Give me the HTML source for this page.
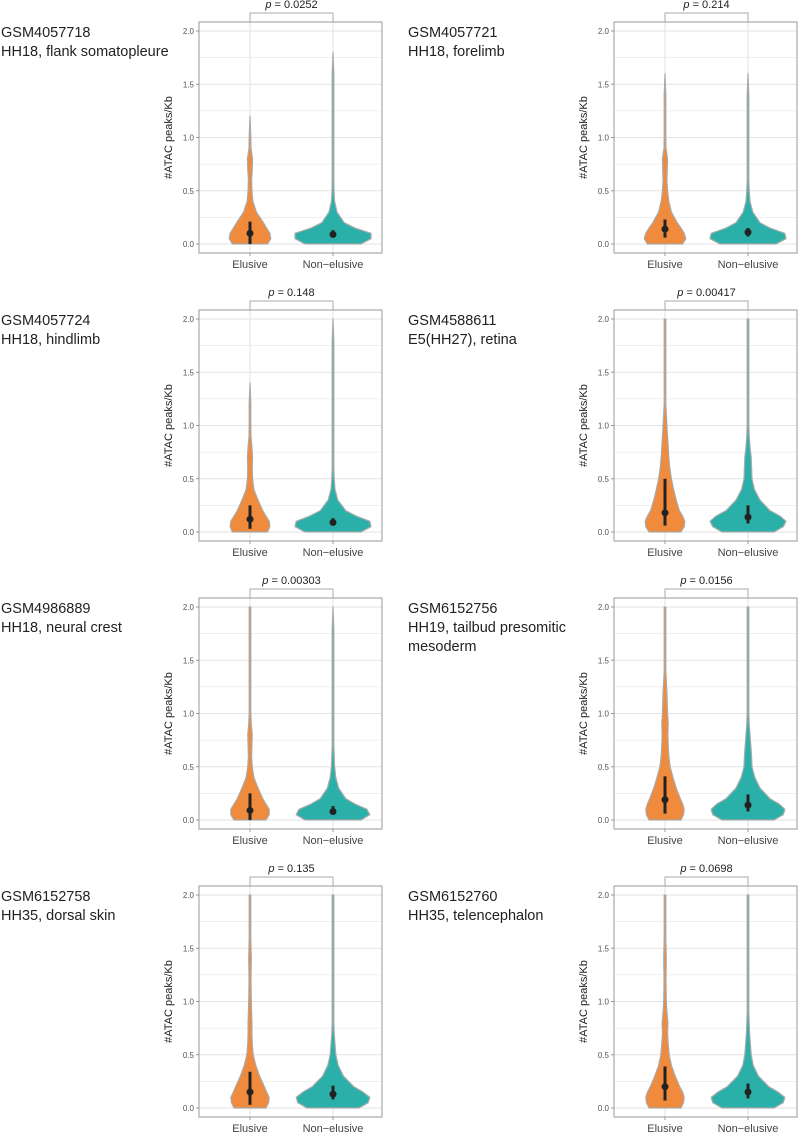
<!DOCTYPE html>
<html><head><meta charset="utf-8">
<style>
body{margin:0;background:#fff;width:799px;height:1134px;overflow:hidden;font-family:"Liberation Sans",Arial,sans-serif}
</style></head>
<body>
<svg id="chart" width="799" height="1134" xmlns="http://www.w3.org/2000/svg"></svg>
<script>
const sampleIds = ["GSM4057718","GSM4057721","GSM4057724","GSM4588611","GSM4986889","GSM6152756","GSM6152758","GSM6152760"];
const sampleDescs = [["HH18, flank somatopleure"],["HH18, forelimb"],["HH18, hindlimb"],["E5(HH27), retina"],["HH18, neural crest"],["HH19, tailbud presomitic","mesoderm"],["HH35, dorsal skin"],["HH35, telencephalon"]];
const pValues = ["0.0252","0.214","0.148","0.00417","0.00303","0.0156","0.135","0.0698"];
const categories = ["Elusive","Non\u2212elusive"];
const yTicks = [0,0.5,1.0,1.5,2.0];
const yTickLabels = ["0.0","0.5","1.0","1.5","2.0"];
const densY = [0,0.05,0.1,0.15,0.2,0.3,0.4,0.5,0.6,0.7,0.8,0.9,1.0,1.2,1.4,1.6,1.8,2.0];
// density half-widths (0..1) per panel: elusive, non-elusive
const elusiveDens = [
 [0.55,0.65,0.62,0.52,0.42,0.2,0.09,0.06,0.05,0.07,0.08,0.03,0.01,0,0,0,0,0],
 [0.55,0.65,0.6,0.5,0.38,0.2,0.12,0.08,0.06,0.07,0.08,0.03,0.02,0.015,0.01,0,0,0],
 [0.55,0.62,0.6,0.5,0.4,0.25,0.12,0.08,0.07,0.08,0.06,0.03,0.02,0.01,0,0,0,0],
 [0.5,0.6,0.62,0.55,0.45,0.35,0.27,0.2,0.15,0.12,0.1,0.08,0.06,0.02,0.01,0.01,0.01,0.005],
 [0.5,0.6,0.6,0.5,0.4,0.25,0.12,0.07,0.05,0.06,0.07,0.04,0.02,0.01,0.01,0.01,0.01,0.005],
 [0.5,0.58,0.6,0.55,0.48,0.35,0.25,0.16,0.12,0.1,0.09,0.1,0.08,0.06,0.02,0.01,0.01,0.005],
 [0.5,0.58,0.6,0.52,0.45,0.3,0.18,0.1,0.07,0.06,0.06,0.05,0.04,0.03,0.04,0.01,0.01,0.005],
 [0.5,0.58,0.6,0.55,0.46,0.32,0.2,0.13,0.1,0.08,0.09,0.06,0.04,0.03,0.04,0.01,0.01,0.005]];
const nonElusiveDens = [
 [0.7,0.95,0.95,0.55,0.28,0.1,0.04,0.025,0.02,0.015,0.01,0.01,0.01,0.01,0.008,0.006,0,0],
 [0.7,0.95,0.92,0.55,0.3,0.12,0.05,0.03,0.02,0.015,0.01,0.01,0.01,0.01,0.008,0,0,0],
 [0.7,0.95,0.92,0.58,0.32,0.12,0.05,0.03,0.02,0.015,0.01,0.01,0.01,0.01,0.008,0.008,0.006,0],
 [0.65,0.88,0.95,0.8,0.55,0.3,0.16,0.1,0.09,0.08,0.05,0.03,0.02,0.01,0.01,0.01,0.01,0.005],
 [0.7,0.92,0.85,0.55,0.32,0.14,0.07,0.04,0.03,0.02,0.015,0.01,0.01,0.01,0.008,0.006,0.005,0],
 [0.65,0.88,0.92,0.78,0.55,0.3,0.17,0.1,0.09,0.07,0.05,0.03,0.02,0.01,0.01,0.01,0.01,0.005],
 [0.65,0.88,0.92,0.75,0.52,0.26,0.13,0.07,0.05,0.03,0.02,0.015,0.01,0.01,0.01,0.01,0.008,0.005],
 [0.65,0.88,0.92,0.75,0.52,0.26,0.13,0.08,0.06,0.04,0.03,0.02,0.015,0.01,0.01,0.01,0.008,0.005]];
const elusiveMed = [0.1,0.14,0.12,0.18,0.09,0.19,0.15,0.2];
const elusiveLo = [0.0,0.06,0.03,0.06,0.0,0.06,0.03,0.07];
const elusiveHi = [0.21,0.23,0.25,0.5,0.25,0.41,0.34,0.39];
const nonMed = [0.09,0.11,0.09,0.14,0.08,0.14,0.13,0.15];
const nonLo = [0.06,0.07,0.06,0.08,0.05,0.08,0.08,0.09];
const nonHi = [0.13,0.15,0.13,0.25,0.13,0.24,0.21,0.23];

const NS="http://www.w3.org/2000/svg";
const svg=document.getElementById('chart');
function mk(tag,attrs,parent){const e=document.createElementNS(NS,tag);for(const k in attrs)e.setAttribute(k,attrs[k]);(parent||svg).appendChild(e);return e;}
const colors=["#f08a3c","#2ab0a8"];
for(let i=0;i<8;i++){
  const col=i%2,row=Math.floor(i/2);
  const ox=col?614:199, oy=row*288;
  const g=mk('g',{});
  
  
  const lx=col?408:1;
  const t1=mk('text',{x:lx,y:oy+37,'font-size':14.5,fill:'#222'},g);t1.textContent=sampleIds[i];
  
  sampleDescs[i].forEach((d,k)=>{const t=mk('text',{x:lx,y:oy+56+k*19,'font-size':14.5,fill:'#222'},g);t.textContent=d;
    });
  const W=183, top=oy+22, bot=oy+253;
  const y0=oy+244, y2=oy+31;
  const ys=v=>y0+(y2-y0)*v/2;
  const xs=[ox+51,ox+134];
  for(let v=0;v<=2.0001;v+=0.25){const l=mk('line',{x1:ox,x2:ox+W,y1:ys(v),y2:ys(v),stroke:'#e2e2e2','stroke-width':(Math.abs(v*2-Math.round(v*2))<1e-6)?1:0.6},g);
    }
  xs.forEach(x=>{const l=mk('line',{x1:x,x2:x,y1:top,y2:bot,stroke:'#e2e2e2'},g);});
  const box=mk('rect',{x:ox,y:top,width:W,height:bot-top,fill:'none',stroke:'#9a9a9a'},g);
  
  yTicks.forEach((v,k)=>{mk('line',{x1:ox-3,x2:ox,y1:ys(v),y2:ys(v),stroke:'#999'},g);
    const t=mk('text',{x:ox-5,y:ys(v)+3,'font-size':8,fill:'#555','text-anchor':'end'},g);t.textContent=yTickLabels[k];
    });
  const yt=mk('text',{x:0,y:0,'font-size':11,fill:'#222','text-anchor':'middle',transform:`translate(${ox-27},${(top+bot)/2}) rotate(-90)`},g);
  yt.textContent="#ATAC peaks/Kb";
  categories.forEach((c,k)=>{mk('line',{x1:xs[k],x2:xs[k],y1:bot,y2:bot+3,stroke:'#999'},g);
    const t=mk('text',{x:xs[k],y:bot+15,'font-size':11,fill:'#444','text-anchor':'middle'},g);t.textContent=c;
    });
  const br=mk('path',{d:`M${xs[0]},${top}V${oy+13}H${xs[1]}V${top}`,fill:'none',stroke:'#aaa'},g);
  
  const pt=mk('text',{x:(xs[0]+xs[1])/2,y:oy+8,'font-size':11,fill:'#222','text-anchor':'middle'},g);
  pt.innerHTML='<tspan font-style="italic">p</tspan> = '+pValues[i];
  
  [elusiveDens[i],nonElusiveDens[i]].forEach((dens,k)=>{
    const maxW=k?40:32;
    let last=0;for(let j=0;j<dens.length;j++)if(dens[j]>0)last=j;
    let pts=[];
    for(let j=0;j<=last;j++)pts.push([xs[k]+Math.max(dens[j]*maxW,0.8),ys(densY[j])]);
    const topY=ys(densY[Math.min(last+1,densY.length-1)]);
    let d='M'+xs[k]+','+ys(0)+' '+pts.map(p=>'L'+p[0]+','+p[1]).join(' ')+' L'+xs[k]+','+topY+' ';
    d+=pts.slice().reverse().map(p=>'L'+(2*xs[k]-p[0])+','+p[1]).join(' ')+' Z';
    const v=mk('path',{d:d,fill:colors[k],stroke:'#aaa','stroke-width':1.2,'stroke-linejoin':'round'},g);
    
    const lo=k?nonLo[i]:elusiveLo[i],hi=k?nonHi[i]:elusiveHi[i],md=k?nonMed[i]:elusiveMed[i];
    const r=mk('line',{x1:xs[k],x2:xs[k],y1:ys(lo),y2:ys(hi),stroke:'#222','stroke-width':3},g);
    
    const c=mk('circle',{cx:xs[k],cy:ys(md),r:3.5,fill:'#222'},g);
    
  });
}
</script>
</body></html>
